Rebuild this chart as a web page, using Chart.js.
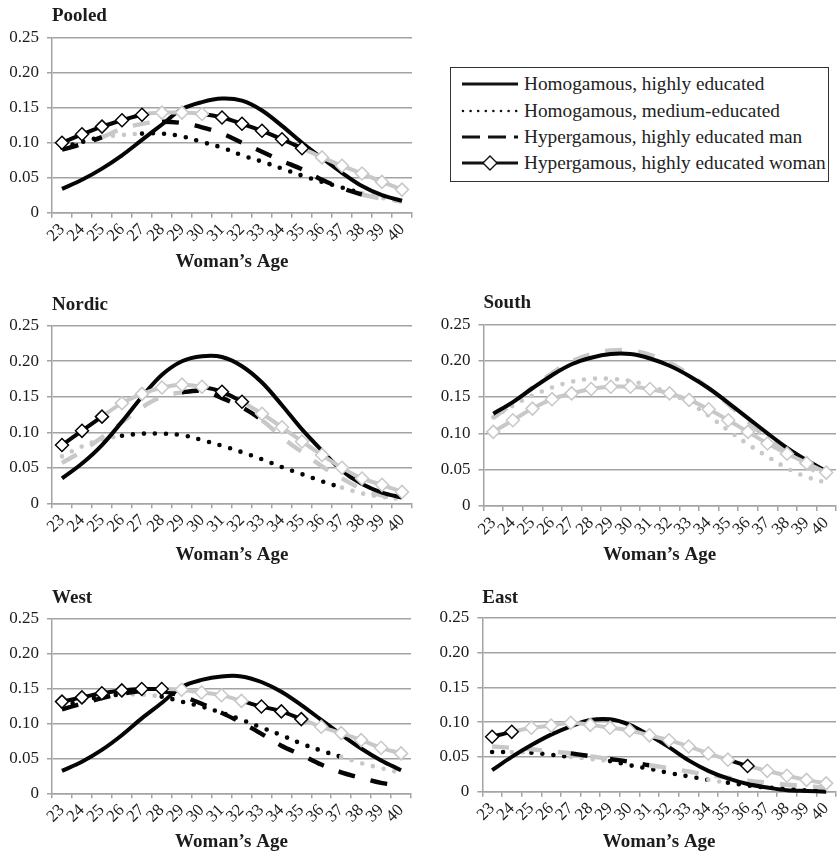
<!DOCTYPE html>
<html><head><meta charset="utf-8">
<script src="https://cdn.jsdelivr.net/npm/chart.js@4.4.0/dist/chart.umd.min.js"></script>
<style>
html,body{margin:0;padding:0;background:#fff;width:838px;height:857px;overflow:hidden;position:relative}
canvas{position:absolute}
#legend{position:absolute;left:450px;top:67px;width:379px;height:115px;border:1.5px solid #333;box-sizing:border-box;font-family:"Liberation Serif",serif;font-size:19.3px;color:#222}
.row{position:absolute;left:0;height:26px;width:100%}
.row svg{position:absolute;left:10px;top:0}
.row span{position:absolute;left:73px;top:1px;line-height:24px;white-space:nowrap}
</style></head><body>
<div id="legend"></div>
<script>
// ---------- data ----------
const ages = ['23','24','25','26','27','28','29','30','31','32','33','34','35','36','37','38','39','40'];
const yTickValues = [0, 0.05, 0.10, 0.15, 0.20, 0.25];
const yTickLabels = ['0', '0.05', '0.10', '0.15', '0.20', '0.25'];
const seriesNames = ['Homogamous, highly educated', 'Homogamous, medium-educated', 'Hypergamous, highly educated man', 'Hypergamous, highly educated woman'];
const panelTitles = ['Pooled', 'Nordic', 'South', 'West', 'East'];
const xAxisTitle = 'Woman\u2019s Age';

// values (1 = black / significant, 0 = grey)
const pooledHomHigh    = [0.034,0.047,0.063,0.082,0.104,0.126,0.148,0.158,0.163,0.160,0.146,0.124,0.100,0.078,0.057,0.038,0.025,0.017];
const pooledHomHighSig = [1,1,1,1,1,1,1,1,1,1,1,1,1,1,1,1,1,1];
const pooledHomMed     = [0.093,0.101,0.108,0.111,0.113,0.113,0.109,0.101,0.093,0.082,0.073,0.063,0.053,0.044,0.036,0.028,0.021,0.016];
const pooledHomMedSig  = [1,1,1,0,0,1,1,1,1,1,1,1,1,1,1,1,0,0];
const pooledHypMan     = [0.090,0.098,0.108,0.120,0.127,0.130,0.128,0.122,0.113,0.100,0.087,0.074,0.062,0.047,0.035,0.026,0.020,0.016];
const pooledHypManSig  = [1,1,1,0,0,0,1,1,1,1,1,1,1,1,1,1,0,0];
const pooledHypWom     = [0.100,0.112,0.123,0.132,0.140,0.143,0.143,0.141,0.136,0.127,0.117,0.105,0.092,0.079,0.067,0.056,0.044,0.033];
const pooledHypWomSig  = [1,1,1,1,1,0,0,0,1,1,1,1,1,0,0,0,0,0];

const nordicHomHigh    = [0.035,0.056,0.082,0.115,0.150,0.181,0.200,0.207,0.206,0.193,0.170,0.138,0.104,0.074,0.046,0.027,0.015,0.008];
const nordicHomHighSig = [1,1,1,1,1,1,1,1,1,1,1,1,1,1,1,1,1,1];
const nordicHomMed     = [0.066,0.080,0.090,0.095,0.098,0.098,0.096,0.089,0.081,0.072,0.062,0.051,0.041,0.031,0.022,0.014,0.009,0.006];
const nordicHomMedSig  = [1,0,0,0,1,1,1,1,1,1,1,1,1,1,1,0,0,0];
const nordicHypMan     = [0.057,0.073,0.093,0.114,0.135,0.150,0.156,0.158,0.148,0.135,0.117,0.093,0.072,0.052,0.035,0.020,0.011,0.006];
const nordicHypManSig  = [0,0,0,0,0,0,0,1,1,1,1,0,0,0,0,0,0,0];
const nordicHypWom     = [0.082,0.102,0.122,0.141,0.154,0.163,0.167,0.164,0.157,0.143,0.126,0.107,0.087,0.068,0.050,0.035,0.026,0.016];
const nordicHypWomSig  = [1,1,1,0,0,0,0,0,1,1,0,0,0,0,0,0,0,0];

const southHomHigh     = [0.127,0.143,0.162,0.180,0.195,0.204,0.209,0.209,0.203,0.193,0.179,0.162,0.142,0.121,0.100,0.080,0.063,0.048];
const southHomHighSig  = [1,1,1,1,1,1,1,1,1,1,1,1,1,1,1,1,1,1];
const southHomMed      = [0.122,0.138,0.152,0.163,0.171,0.175,0.175,0.172,0.165,0.155,0.142,0.124,0.104,0.085,0.068,0.052,0.040,0.032];
const southHomMedSig   = [0,0,0,0,0,0,0,0,0,0,0,0,0,0,0,0,0,0];
const southHypMan      = [0.121,0.141,0.163,0.183,0.199,0.209,0.214,0.214,0.208,0.197,0.181,0.162,0.140,0.116,0.093,0.073,0.055,0.040];
const southHypManSig   = [0,0,0,0,0,0,0,0,0,0,0,0,0,0,0,0,0,0];
const southHypWom      = [0.102,0.118,0.134,0.147,0.155,0.161,0.164,0.164,0.161,0.155,0.146,0.133,0.118,0.102,0.086,0.072,0.059,0.046];
const southHypWomSig   = [0,0,0,0,0,0,0,0,0,0,0,0,0,0,0,0,0,0];

const westHomHigh      = [0.032,0.045,0.062,0.083,0.107,0.129,0.152,0.162,0.167,0.167,0.159,0.145,0.126,0.105,0.084,0.064,0.047,0.033];
const westHomHighSig   = [1,1,1,1,1,1,1,1,1,1,1,1,1,1,1,1,1,1];
const westHomMed       = [0.125,0.132,0.138,0.141,0.141,0.138,0.131,0.124,0.115,0.105,0.094,0.083,0.071,0.061,0.052,0.043,0.036,0.029];
const westHomMedSig    = [1,1,1,1,0,0,1,1,1,1,1,1,1,1,1,0,0,0];
const westHypMan       = [0.120,0.128,0.136,0.142,0.146,0.146,0.139,0.128,0.115,0.101,0.085,0.068,0.055,0.041,0.030,0.022,0.015,0.011];
const westHypManSig    = [1,1,1,1,1,1,1,1,1,1,1,1,1,1,1,1,1,1];
const westHypWom       = [0.131,0.137,0.143,0.147,0.149,0.149,0.148,0.144,0.140,0.132,0.124,0.117,0.106,0.095,0.086,0.076,0.065,0.057];
const westHypWomSig    = [1,1,1,1,1,1,0,0,0,0,1,1,1,0,0,0,0,0];

const eastHomHigh      = [0.031,0.050,0.067,0.082,0.094,0.103,0.104,0.096,0.081,0.064,0.045,0.030,0.019,0.011,0.006,0.002,0.001,0.000];
const eastHomHighSig   = [1,1,1,1,1,1,1,1,1,1,1,1,1,1,1,1,1,1];
const eastHomMed       = [0.057,0.057,0.056,0.053,0.050,0.047,0.044,0.038,0.033,0.027,0.022,0.017,0.013,0.009,0.006,0.004,0.002,0.001];
const eastHomMedSig    = [1,1,0,1,1,0,0,1,1,1,1,1,0,1,1,1,1,1];
const eastHypMan       = [0.065,0.063,0.061,0.058,0.055,0.051,0.047,0.043,0.038,0.034,0.029,0.024,0.020,0.016,0.013,0.010,0.008,0.006];
const eastHypManSig    = [0,0,0,0,0,1,0,1,1,0,0,0,0,0,0,0,0,0];
const eastHypWom       = [0.079,0.086,0.092,0.095,0.099,0.096,0.092,0.088,0.081,0.074,0.065,0.055,0.046,0.037,0.030,0.023,0.017,0.012];
const eastHypWomSig    = [1,1,0,0,0,0,0,0,0,0,0,0,0,1,0,0,0,0];

// ---------- styling / layout ----------
const BLACK = '#050505', GREY = '#c8c8c8', GRID = '#a3a3a3', TEXT = '#1c1c1c';
const FONT = '"Liberation Serif", "Times New Roman", serif';

const panels = [
  {title: panelTitles[0], canvasLeft: 0,   canvasRight: 422, plotLeft: 52,    plotRight: 412, titleC: 16.3,  plotTop: 37.7,  plotBottom: 212.7, axisC: 261.7,
   data: [[pooledHomHigh, pooledHomHighSig],[pooledHomMed, pooledHomMedSig],[pooledHypMan, pooledHypManSig],[pooledHypWom, pooledHypWomSig]]},
  {title: panelTitles[1], canvasLeft: 0,   canvasRight: 422, plotLeft: 52,    plotRight: 412, titleC: 305,   plotTop: 325.7, plotBottom: 503.3, axisC: 555,
   data: [[nordicHomHigh, nordicHomHighSig],[nordicHomMed, nordicHomMedSig],[nordicHypMan, nordicHypManSig],[nordicHypWom, nordicHypWomSig]]},
  {title: panelTitles[2], canvasLeft: 420, canvasRight: 844, plotLeft: 483.5, plotRight: 840, titleC: 303.3, plotTop: 324.3, plotBottom: 506,   axisC: 555,
   data: [[southHomHigh, southHomHighSig],[southHomMed, southHomMedSig],[southHypMan, southHypManSig],[southHypWom, southHypWomSig]]},
  {title: panelTitles[3], canvasLeft: 0,   canvasRight: 422, plotLeft: 52,    plotRight: 411, titleC: 598.3, plotTop: 618.3, plotBottom: 793.3, axisC: 841.7,
   data: [[westHomHigh, westHomHighSig],[westHomMed, westHomMedSig],[westHypMan, westHypManSig],[westHypWom, westHypWomSig]]},
  {title: panelTitles[4], canvasLeft: 420, canvasRight: 844, plotLeft: 482.3, plotRight: 838.5, titleC: 598.3, plotTop: 617.7, plotBottom: 791.7, axisC: 841.7,
   data: [[eastHomHigh, eastHomHighSig],[eastHomMed, eastHomMedSig],[eastHypMan, eastHypManSig],[eastHypWom, eastHypWomSig]]},
];

const seriesStyles = [
  {borderWidth: 4,   borderDash: [], cap: 'butt', order: 1},
  {borderWidth: 4.6, borderDash: [0, 11], cap: 'round', order: 3},
  {borderWidth: 4.4, borderDash: [17, 16], cap: 'butt', order: 2},
  {borderWidth: 4,   borderDash: [], cap: 'butt', order: 0, diamond: true},
];

const col = s => (s ? BLACK : GREY);

function makePanel(p) {
  const cv = document.createElement('canvas');
  const top = Math.round(p.titleC - 16.3);
  const bottom = Math.round(p.axisC + 14.4);
  const w = p.canvasRight - p.canvasLeft, h = bottom - top;
  cv.width = w; cv.height = h;
  cv.style.left = p.canvasLeft + 'px'; cv.style.top = top + 'px';
  cv.style.width = w + 'px'; cv.style.height = h + 'px';
  document.body.appendChild(cv);

  const titlePadTop = p.titleC - top - 11.4;
  const titlePadBottom = p.plotTop - top - titlePadTop - 22.8;
  const yW = p.plotLeft - p.canvasLeft;
  const xH = bottom - p.plotBottom;
  const xTitlePadBottom = bottom - p.axisC - 11.4;

  const datasets = p.data.map(([vals, sig], i) => {
    const st = seriesStyles[i];
    return {
      label: seriesNames[i],
      data: vals,
      borderColor: col(sig[0]),
      borderWidth: st.borderWidth,
      borderDash: st.borderDash,
      borderCapStyle: st.cap,
      borderJoinStyle: 'round',
      tension: 0.35,
      fill: false,
      order: st.order,
      clip: 10,
      segment: {borderColor: ctx => col(sig[ctx.p1DataIndex])},
      pointRadius: st.diamond ? 6.5 : 0,
      pointStyle: 'rectRot',
      pointBorderWidth: 1.5,
      pointBackgroundColor: '#ffffff',
      pointBorderColor: sig.map(col),
    };
  });

  new Chart(cv, {
    type: 'line',
    data: {labels: ages, datasets},
    options: {
      responsive: false, animation: false, events: [], devicePixelRatio: 1,
      layout: {padding: {left: 0, top: 0, bottom: 0, right: p.canvasRight - p.plotRight}},
      plugins: {
        legend: {display: false}, tooltip: {enabled: false},
        title: {display: true, text: p.title, align: 'start', fullSize: false, color: TEXT,
                font: {family: FONT, size: 19, weight: 'bold', lineHeight: 1.2},
                padding: {top: titlePadTop, bottom: titlePadBottom}}
      },
      scales: {
        x: {
          type: 'category', offset: true,
          grid: {offset: true, drawOnChartArea: false, drawTicks: true, tickLength: 5, color: GRID, lineWidth: 1.5},
          border: {display: true, color: GRID, width: 1.5},
          ticks: {autoSkip: false, maxRotation: 45, minRotation: 45, padding: 2, color: TEXT,
                  font: {family: FONT, size: 17}},
          title: {display: true, text: xAxisTitle, color: TEXT, font: {family: FONT, size: 19, weight: 'bold', lineHeight: 1.2},
                  padding: {top: 0, bottom: xTitlePadBottom}},
          afterFit: s => { s.height = xH; s.paddingLeft = 0; s.paddingRight = 0; }
        },
        y: {
          min: 0, max: 0.25,
          afterBuildTicks: s => { s.ticks = yTickValues.map(v => ({value: v})); },
          ticks: {padding: 8, color: TEXT, font: {family: FONT, size: 17},
                  callback: (v, idx) => yTickLabels[idx]},
          grid: {color: GRID, lineWidth: 1.5, drawTicks: true, tickLength: 5},
          border: {display: true, color: GRID, width: 1.5},
          afterFit: s => { s.width = yW; }
        }
      }
    }
  });
}
panels.forEach(makePanel);

// ---------- legend (HTML) ----------
const legend = document.getElementById('legend');
const samples = [
  '<line x1="1" y1="13" x2="57" y2="13" stroke="#111" stroke-width="3"/>',
  '<line x1="2" y1="13" x2="57" y2="13" stroke="#111" stroke-width="2.6" stroke-linecap="round" stroke-dasharray="0 7.6"/>',
  '<line x1="1" y1="13" x2="57" y2="13" stroke="#111" stroke-width="3.2" stroke-dasharray="18 8"/>',
  '<line x1="1" y1="13" x2="57" y2="13" stroke="#111" stroke-width="3"/><polygon points="29,6 36,13 29,20 22,13" fill="#fff" stroke="#111" stroke-width="1.4"/>'
];
seriesNames.forEach((name, i) => {
  const row = document.createElement('div');
  row.className = 'row';
  row.style.top = (3.3 + i * 26.2) + 'px';
  row.innerHTML = '<svg width="60" height="26">' + samples[i] + '</svg><span></span>';
  row.querySelector('span').textContent = name;
  legend.appendChild(row);
});
</script>
</body></html>
